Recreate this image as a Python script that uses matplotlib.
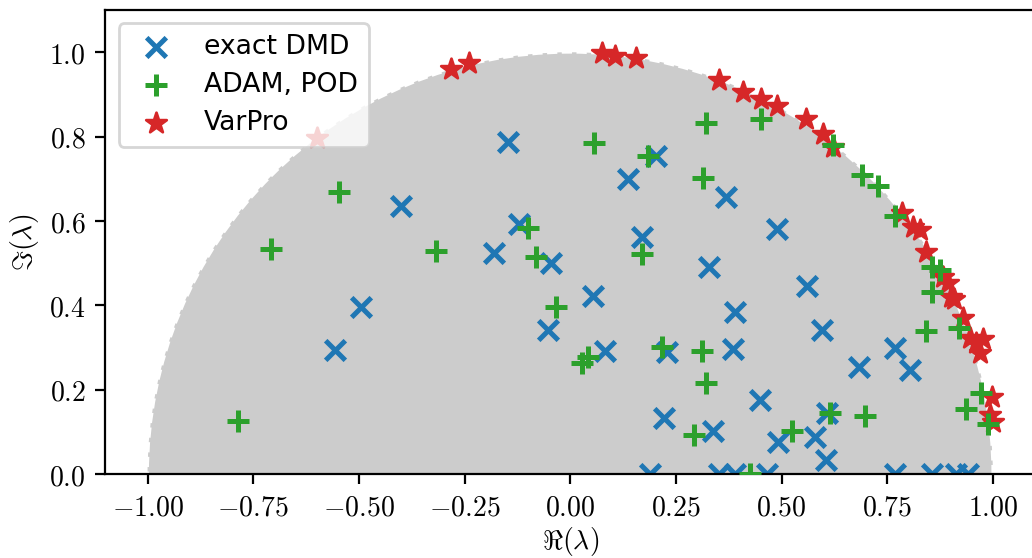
import matplotlib
matplotlib.use("Agg")
import matplotlib.pyplot as plt
from matplotlib.patches import Circle
from matplotlib.ticker import FuncFormatter, MultipleLocator

plt.rcParams["mathtext.fontset"] = "cm"

dmd_re = [-0.556, -0.496, -0.400, -0.181, -0.147, -0.122, -0.046, -0.053, 0.053, 0.083,
          0.136, 0.169, 0.203, 0.229, 0.222, 0.189, 0.329, 0.368, 0.391, 0.385,
          0.489, 0.560, 0.595, 0.339, 0.449, 0.492, 0.579, 0.607, 0.605, 0.684,
          0.768, 0.805, 0.351, 0.390, 0.466, 0.768, 0.857, 0.914, 0.942]
dmd_im = [0.295, 0.397, 0.636, 0.524, 0.787, 0.593, 0.500, 0.342, 0.423, 0.293,
          0.699, 0.563, 0.754, 0.289, 0.134, 0.0, 0.490, 0.658, 0.384, 0.297,
          0.581, 0.445, 0.342, 0.103, 0.176, 0.077, 0.088, 0.145, 0.034, 0.255,
          0.299, 0.247, 0.0, 0.0, 0.0, 0.0, 0.0, 0.0, 0.0]

adam_re = [-0.786, -0.708, -0.546, -0.318, -0.100, -0.080, -0.033, 0.028, 0.043, 0.057,
           0.183, 0.171, 0.218, 0.292, 0.311, 0.322, 0.322, 0.452, 0.314, 0.426,
           0.526, 0.615, 0.697, 0.621, 0.691, 0.729, 0.768, 0.855, 0.875, 0.855,
           0.843, 0.920, 0.973, 0.936, 0.989]
adam_im = [0.127, 0.533, 0.670, 0.529, 0.584, 0.514, 0.397, 0.263, 0.279, 0.786,
           0.753, 0.522, 0.302, 0.092, 0.291, 0.216, 0.833, 0.841, 0.701, 0.0,
           0.103, 0.145, 0.137, 0.780, 0.708, 0.682, 0.613, 0.492, 0.484, 0.433,
           0.340, 0.346, 0.192, 0.154, 0.119]

varpro_re = [-0.599, -0.282, -0.240, 0.075, 0.106, 0.156, 0.353, 0.408, 0.451, 0.489,
             0.558, 0.599, 0.621, 0.786, 0.812, 0.827, 0.843, 0.883, 0.894, 0.902,
             0.908, 0.930, 0.946, 0.977, 0.961, 0.969, 0.999, 0.993, 1.001]
varpro_im = [0.796, 0.960, 0.974, 0.999, 0.990, 0.986, 0.934, 0.905, 0.889, 0.873,
             0.842, 0.806, 0.775, 0.618, 0.587, 0.579, 0.527, 0.468, 0.453, 0.421,
             0.415, 0.370, 0.322, 0.320, 0.310, 0.287, 0.184, 0.141, 0.125]

fig = plt.figure(figsize=(5.16, 2.79), dpi=200)
ax = fig.add_axes([0.102, 0.15, 0.901, 0.832])

# unit circle
ax.add_patch(Circle((0, 0), 1.0, facecolor="0.8", edgecolor="white",
                    linestyle="--", linewidth=1.0, zorder=1))

h1 = ax.scatter(dmd_re, dmd_im, marker="x", s=50, color="C0", linewidths=1.8,
                label="exact DMD", zorder=2)
h3 = ax.scatter(varpro_re, varpro_im, marker="*", s=60, color="C3",
                label="VarPro", zorder=2.5)
h2 = ax.scatter(adam_re, adam_im, marker="+", s=60, color="C2", linewidths=1.8,
                label="ADAM, POD", zorder=3)

ax.set_xlim(-1.1, 1.1)
ax.set_ylim(0, 1.1)
ax.xaxis.set_major_locator(MultipleLocator(0.25))
ax.yaxis.set_major_locator(MultipleLocator(0.2))
ax.xaxis.set_major_formatter(FuncFormatter(lambda v, p: f"${v:.2f}$"))
ax.yaxis.set_major_formatter(FuncFormatter(lambda v, p: f"${v:.1f}$"))
ax.set_xlabel(r"$\Re(\lambda)$", labelpad=1)
ax.set_ylabel(r"$\Im(\lambda)$", labelpad=3)

ax.legend(handles=[h1, h2, h3], loc="upper left",
          prop={"family": "DejaVu Sans", "size": 9.6}, labelspacing=0.45)

fig.savefig("out.png", dpi=200)
